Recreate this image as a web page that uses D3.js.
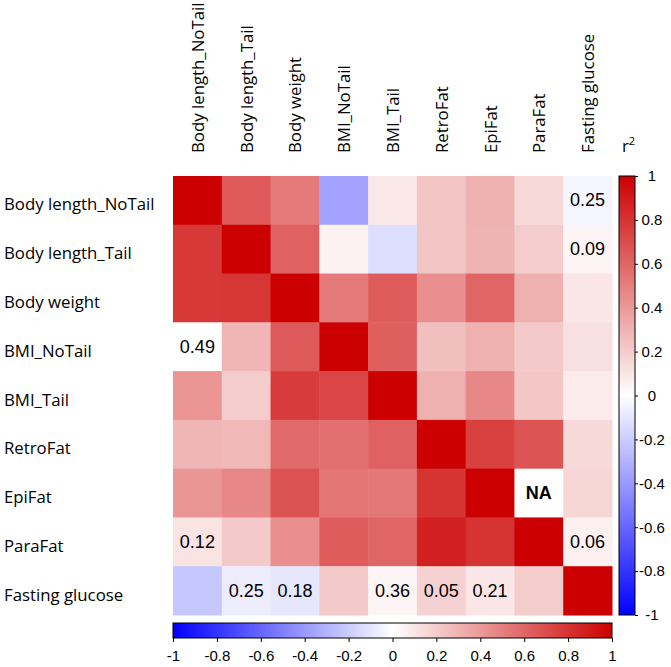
<!DOCTYPE html>
<html>
<head>
<meta charset="utf-8">
<script src="https://cdn.jsdelivr.net/npm/d3@7"></script>
<style>
  html, body { margin: 0; padding: 0; background: #fff; }
  svg { display: block; }
</style>
</head>
<body>
<svg id="chart" width="671" height="667"></svg>
<script>
const variables = ["Body length_NoTail", "Body length_Tail", "Body weight", "BMI_NoTail", "BMI_Tail", "RetroFat", "EpiFat", "ParaFat", "Fasting glucose"];

// r values per row (null = NA)
const rowBodyLengthNoTail = [1, 0.65, 0.52, -0.36, 0.09, 0.23, 0.31, 0.15, -0.04];
const rowBodyLengthTail   = [0.78, 1, 0.62, 0.05, -0.13, 0.23, 0.30, 0.20, 0.04];
const rowBodyWeight       = [0.78, 0.79, 1, 0.52, 0.64, 0.44, 0.60, 0.31, 0.10];
const rowBMINoTail        = [0.00, 0.29, 0.65, 1, 0.63, 0.25, 0.31, 0.21, 0.12];
const rowBMITail          = [0.42, 0.20, 0.77, 0.73, 1, 0.31, 0.47, 0.22, 0.08];
const rowRetroFat         = [0.29, 0.28, 0.58, 0.56, 0.62, 1, 0.75, 0.67, 0.15];
const rowEpiFat           = [0.41, 0.47, 0.68, 0.54, 0.53, 0.80, 1, null, 0.16];
const rowParaFat          = [0.11, 0.21, 0.44, 0.64, 0.60, 0.88, 0.80, 1, 0.06];
const rowFastingGlucose   = [-0.22, -0.07, -0.10, 0.21, 0.04, 0.18, 0.10, 0.20, 1];
const matrix = [rowBodyLengthNoTail, rowBodyLengthTail, rowBodyWeight, rowBMINoTail, rowBMITail, rowRetroFat, rowEpiFat, rowParaFat, rowFastingGlucose];

// annotations: [row, col, text]
const annotations = [
  [0, 8, "0.25"], [1, 8, "0.09"], [3, 0, "0.49"], [7, 0, "0.12"], [7, 8, "0.06"],
  [8, 1, "0.25"], [8, 2, "0.18"], [8, 4, "0.36"], [8, 5, "0.05"], [8, 6, "0.21"],
  [6, 7, "NA"]
];

const colorTicks = [-1, -0.8, -0.6, -0.4, -0.2, 0, 0.2, 0.4, 0.6, 0.8, 1];

const svg = d3.select("#chart");
const x0 = 173, y0 = 176, size = 439;
const labelFont = "'Open Sans', sans-serif";
const numFont = "'Liberation Sans', Arial, Helvetica, sans-serif";
const labelSize = 16.8;
const fmt = d => d3.format("~g")(d).replace("\u2212", "-");

const x = d3.scaleBand().domain(variables).range([x0, x0 + size]);
const y = d3.scaleBand().domain(variables).range([y0, y0 + size]);
const color = d3.scaleLinear().domain([-1, 0, 1]).range(["#0000ff", "#ffffff", "#cc0000"]);

const cells = [];
matrix.forEach((row, i) => row.forEach((v, j) => cells.push({ r: variables[i], c: variables[j], v })));

svg.append("g").selectAll("rect").data(cells).join("rect")
  .attr("x", d => x(d.c)).attr("y", d => y(d.r))
  .attr("width", x.bandwidth() + 0.5).attr("height", y.bandwidth() + 0.5)
  .attr("fill", d => d.v === null ? "#ffffff" : color(d.v));

svg.append("g").selectAll("text").data(annotations).join("text")
  .attr("x", d => x(variables[d[1]]) + x.bandwidth() / 2)
  .attr("y", d => y(variables[d[0]]) + y.bandwidth() / 2)
  .attr("text-anchor", "middle").attr("dominant-baseline", "central")
  .attr("font-family", numFont).attr("font-size", 18)
  .attr("font-weight", d => d[2] === "NA" ? "bold" : "normal")
  .attr("fill", "#000")
  .text(d => d[2]);

// row labels
svg.append("g").selectAll("text").data(variables).join("text")
  .attr("x", 4).attr("y", d => y(d) + y.bandwidth() / 2 + 10)
  .attr("font-family", labelFont).attr("font-size", labelSize).attr("fill", "#000")
  .text(d => d);

// column labels
svg.append("g").selectAll("text").data(variables).join("text")
  .attr("transform", d => `translate(${x(d) + x.bandwidth() / 2 + 6.5},153) rotate(-90)`)
  .attr("font-family", labelFont).attr("font-size", labelSize).attr("fill", "#000")
  .text(d => d);

// r^2 label
const r2 = svg.append("text").attr("x", 622).attr("y", 152)
  .attr("font-family", labelFont).attr("font-size", labelSize).attr("fill", "#000");
r2.append("tspan").text("r");
r2.append("tspan").attr("font-size", 11).attr("dy", -7).text("2");

// gradients
const defs = svg.append("defs");
const gv = defs.append("linearGradient").attr("id", "gv").attr("x1", 0).attr("y1", 1).attr("x2", 0).attr("y2", 0);
const gh = defs.append("linearGradient").attr("id", "gh").attr("x1", 0).attr("y1", 0).attr("x2", 1).attr("y2", 0);
colorTicks.forEach(t => {
  gv.append("stop").attr("offset", (t + 1) / 2).attr("stop-color", color(t));
  gh.append("stop").attr("offset", (t + 1) / 2).attr("stop-color", color(t));
});

// vertical colorbar
const vx = 619, vw = 16;
const vScale = d3.scaleLinear().domain([-1, 1]).range([y0 + size, y0]);
svg.append("rect").attr("x", vx).attr("y", y0).attr("width", vw).attr("height", size)
  .attr("fill", "url(#gv)").attr("stroke", "#000").attr("stroke-width", 1);
const vAxis = svg.append("g").attr("transform", `translate(${vx + vw},0)`)
  .call(d3.axisRight(vScale).tickValues(colorTicks).tickSize(3).tickFormat(fmt));
vAxis.select(".domain").remove();
vAxis.selectAll("text").attr("x", 17).attr("text-anchor", "middle")
  .attr("font-family", numFont).attr("font-size", 15).attr("fill", "#000");

// horizontal colorbar
const hy = 623, hh = 15;
const hScale = d3.scaleLinear().domain([-1, 1]).range([x0, x0 + size]);
svg.append("rect").attr("x", x0).attr("y", hy).attr("width", size).attr("height", hh)
  .attr("fill", "url(#gh)").attr("stroke", "#000").attr("stroke-width", 1);
const hAxis = svg.append("g").attr("transform", `translate(0,${hy + hh})`)
  .call(d3.axisBottom(hScale).tickValues(colorTicks).tickSize(4).tickFormat(fmt));
hAxis.select(".domain").remove();
hAxis.selectAll("text").attr("y", 12)
  .attr("font-family", numFont).attr("font-size", 15).attr("fill", "#000");
</script>
</body>
</html>
